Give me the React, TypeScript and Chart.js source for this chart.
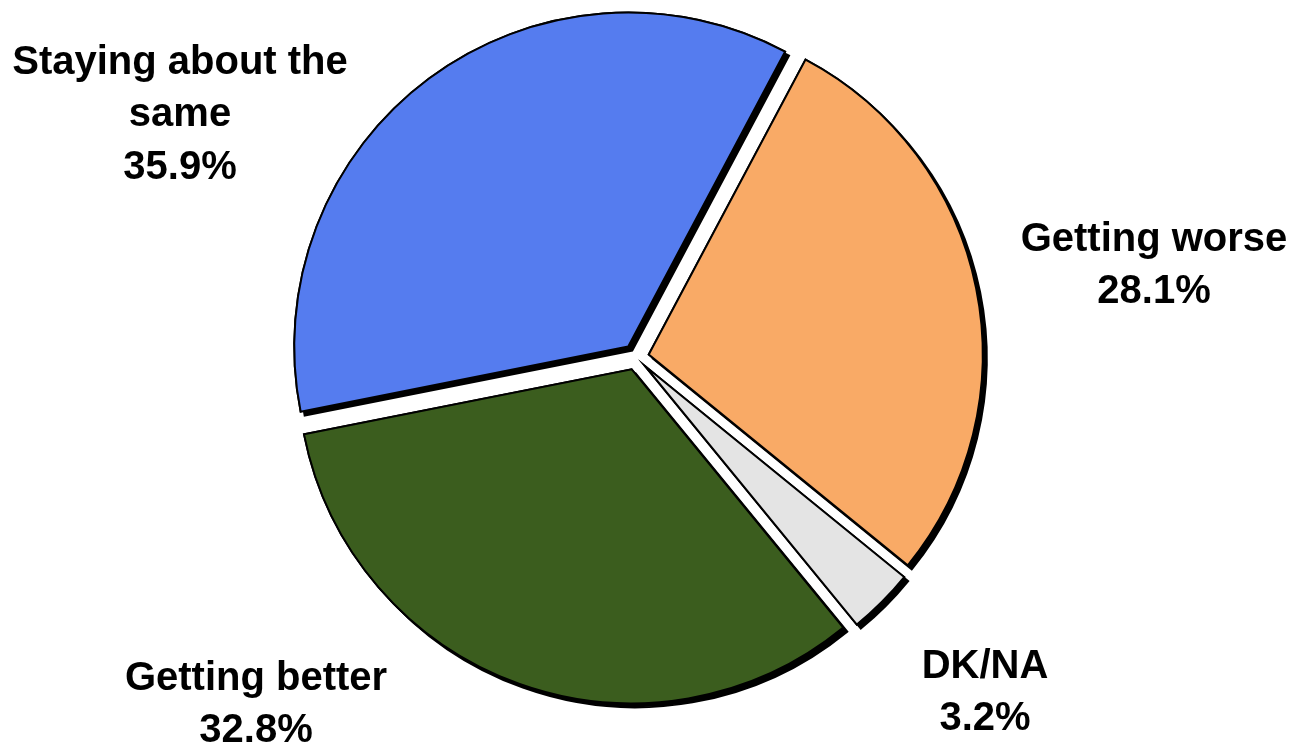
import React, { useEffect, useRef } from "react";
import { Chart, registerables } from "chart.js";

Chart.register(...registerables);

const categories = ["Getting worse", "DK/NA", "Getting better", "Staying about the same"];
const values = [28.1, 3.2, 32.8, 35.9];
const labelLines = [
  ["Getting worse", "28.1%"],
  ["DK/NA", "3.2%"],
  ["Getting better", "32.8%"],
  ["Staying about the", "same", "35.9%"],
];

const colors = ["#F9AA66", "#E4E4E4", "#3B5D1E", "#557CEF"];
const explode = [13, 13, 13, 13];
// label anchor offsets from pie centre (px)
const labelOffsets = [
  [518, -91],
  [349, 336],
  [-380, 348],
  [-456, -242],
];

const explodePlugin = {
  id: "explodeShadow",
  beforeDatasetsDraw(chart: any) {
    const ctx = chart.ctx;
    const meta = chart.getDatasetMeta(0);
    const drawAll = () => {
      meta.data.forEach((arc: any, i: number) => {
        const mid = (arc.startAngle + arc.endAngle) / 2;
        ctx.save();
        ctx.translate(Math.cos(mid) * explode[i], Math.sin(mid) * explode[i]);
        arc.draw(ctx);
        ctx.restore();
      });
    };
    ctx.save();
    ctx.shadowColor = "#000";
    ctx.shadowOffsetX = 4;
    ctx.shadowOffsetY = 4;
    ctx.shadowBlur = 0;
    drawAll();
    ctx.restore();
    ctx.save();
    drawAll();
    ctx.restore();
    return false;
  },
  afterDraw(chart: any) {
    const ctx = chart.ctx;
    const meta = chart.getDatasetMeta(0);
    const arc0 = meta.data[0];
    const cx = arc0.x;
    const cy = arc0.y;
    ctx.save();
    ctx.fillStyle = "#000";
    ctx.font = "bold 40px 'Liberation Sans', Arial, sans-serif";
    ctx.textAlign = "center";
    ctx.textBaseline = "middle";
    const lh = 52.5;
    labelLines.forEach((lines, i) => {
      const x = cx + labelOffsets[i][0];
      const yc = cy + labelOffsets[i][1];
      const n = lines.length;
      lines.forEach((t, j) => {
        ctx.fillText(t, x, yc + (j - (n - 1) / 2) * lh);
      });
    });
    ctx.restore();
  },
};

export default function App() {
  const ref = useRef<HTMLCanvasElement | null>(null);
  useEffect(() => {
    if (!ref.current) return;
    const chart = new Chart(ref.current, {
      type: "pie",
      data: {
        labels: categories,
        datasets: [
          {
            data: values,
            backgroundColor: colors,
            borderColor: "#000",
            borderWidth: 2,
            borderJoinStyle: "miter",
          } as any,
        ],
      },
      options: {
        animation: false,
        responsive: true,
        maintainAspectRatio: false,
        rotation: 28,
        radius: 334,
        layout: { padding: { left: 0, right: 20, top: 0, bottom: 36 } },
        plugins: {
          legend: { display: false },
          tooltip: { enabled: false },
        },
        events: [],
      } as any,
      plugins: [explodePlugin],
    });
    return () => chart.destroy();
  }, []);
  return (
    <div style={{ position: "absolute", left: 0, top: 0, width: 1292, height: 750, background: "#fff" }}>
      <canvas ref={ref} />
    </div>
  );
}
